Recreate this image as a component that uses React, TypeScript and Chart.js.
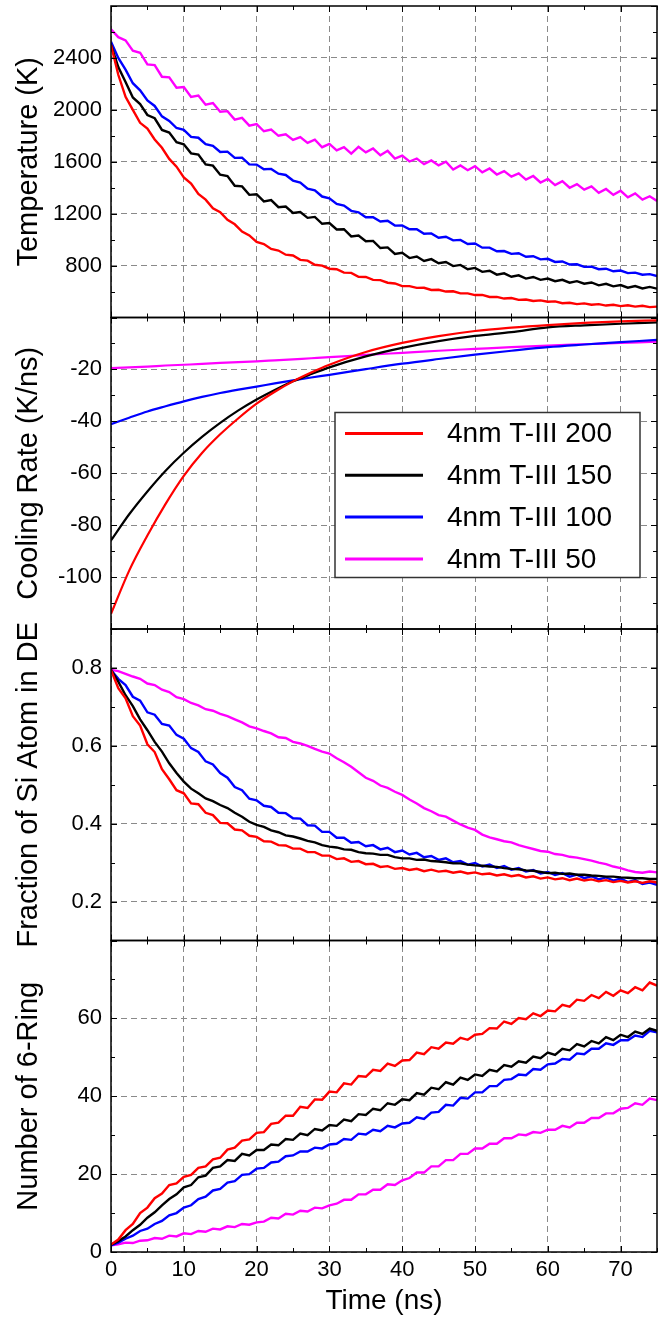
import React, { useEffect, useRef } from "react";
import { Chart, registerables } from "chart.js";

Chart.register(...registerables);

// ---------- DATA ----------
const TIME = [
  0, 1, 2, 3, 4, 5, 6, 7, 8, 9, 10, 11, 12, 13, 14, 15, 16, 17, 18, 19,
  20, 21, 22, 23, 24, 25, 26, 27, 28, 29, 30, 31, 32, 33, 34, 35, 36, 37, 38, 39,
  40, 41, 42, 43, 44, 45, 46, 47, 48, 49, 50, 51, 52, 53, 54, 55, 56, 57, 58, 59,
  60, 61, 62, 63, 64, 65, 66, 67, 68, 69, 70, 71, 72, 73, 74, 75,
];
const COOL_TIME = [0, 2.5, 5, 7.5, 10, 12.5, 15, 17.5, 20, 22.5, 25, 27.5, 30, 35, 40, 45, 50, 55, 60, 65, 70, 75];

const SERIES_NAMES = ["4nm T-III 200", "4nm T-III 150", "4nm T-III 100", "4nm T-III 50"];

// Temperature (K)
const TEMP_200 = [
  2500, 2270, 2100, 2000, 1900, 1855, 1772, 1708, 1622, 1562, 1480, 1432, 1352, 1308, 1242, 1212, 1152, 1118, 1062, 1032,
  982, 966, 928, 916, 884, 878, 844, 838, 806, 800, 776, 772, 746, 744, 714, 712, 690, 688, 668, 662,
  642, 642, 628, 629, 612, 614, 600, 602, 586, 586, 573, 574, 558, 559, 546, 550, 536, 539, 527, 532,
  521, 524, 510, 514, 503, 509, 498, 503, 492, 498, 488, 494, 484, 490, 480, 484,
];
const TEMP_150 = [
  2500, 2330, 2215, 2095, 2045, 1960, 1935, 1845, 1825, 1750, 1735, 1665, 1655, 1580, 1570, 1500, 1490, 1415, 1410, 1345,
  1350, 1295, 1305, 1250, 1255, 1205, 1212, 1168, 1175, 1122, 1128, 1078, 1080, 1025, 1032, 988, 990, 935, 940, 890,
  898, 858, 870, 836, 850, 818, 828, 796, 805, 772, 782, 752, 760, 730, 740, 714, 725, 700, 712, 690,
  700, 680, 690, 668, 680, 660, 670, 648, 660, 640, 650, 630, 642, 624, 636, 622,
];
const TEMP_100 = [
  2525, 2400, 2310, 2205, 2150, 2072, 2030, 1950, 1915, 1860, 1845, 1792, 1785, 1735, 1722, 1675, 1678, 1630, 1632, 1580,
  1578, 1542, 1545, 1508, 1498, 1455, 1440, 1392, 1380, 1332, 1318, 1275, 1262, 1222, 1210, 1172, 1172, 1140, 1145, 1108,
  1110, 1080, 1080, 1045, 1048, 1015, 1022, 994, 998, 966, 970, 938, 938, 910, 912, 890, 895, 868, 872, 848,
  852, 828, 832, 808, 810, 790, 792, 772, 776, 756, 762, 742, 746, 730, 734, 720,
];
const TEMP_50 = [
  2620, 2560, 2535, 2455, 2440, 2350, 2345, 2255, 2250, 2170, 2175, 2100, 2110, 2040, 2052, 1985, 1990, 1925, 1938, 1878,
  1890, 1835, 1848, 1800, 1812, 1768, 1790, 1745, 1770, 1712, 1738, 1688, 1712, 1662, 1715, 1672, 1702, 1650, 1684, 1625,
  1648, 1602, 1625, 1582, 1610, 1572, 1600, 1540, 1572, 1535, 1566, 1518, 1548, 1502, 1528, 1485, 1510, 1462, 1490, 1440,
  1468, 1420, 1450, 1400, 1428, 1385, 1410, 1360, 1390, 1345, 1376, 1326, 1356, 1308, 1334, 1298,
];

// Cooling rate (K/ns)
const RATE_200 = [-114.2, -97.5, -84, -71.8, -61, -52.2, -45, -38.8, -33.2, -28.6, -24.6, -21.2, -18.2, -13.3, -9.8, -7.2, -5.2, -3.9, -2.9, -2.1, -1.5, -1.1];
const RATE_150 = [-85.9, -75.8, -67, -59, -52.1, -46, -40.6, -35.8, -31.6, -27.9, -24.6, -21.8, -19.2, -15, -11.7, -9.1, -7.1, -5.6, -3.8, -3, -2.4, -1.9];
const RATE_100 = [-41.1, -38.6, -36.2, -34.2, -32.3, -30.6, -29.1, -27.8, -26.6, -25.4, -24.2, -23.1, -22.1, -19.9, -17.8, -16, -14.3, -12.8, -11.4, -10.4, -9.5, -8.6];
const RATE_50 = [-19.5, -19.2, -18.9, -18.5, -18.2, -17.9, -17.5, -17.2, -16.9, -16.5, -16.1, -15.7, -15.3, -14.4, -13.6, -12.8, -12.1, -11.4, -10.8, -10.3, -9.8, -9.3];

// Fraction of Si atom in DE
const FRAC_200 = [
  0.795, 0.748, 0.722, 0.676, 0.652, 0.604, 0.584, 0.54, 0.514, 0.486, 0.478, 0.452, 0.45, 0.428, 0.422, 0.402, 0.401, 0.385, 0.383, 0.369,
  0.366, 0.355, 0.354, 0.345, 0.344, 0.336, 0.336, 0.327, 0.327, 0.318, 0.318, 0.309, 0.311, 0.302, 0.304, 0.296, 0.297, 0.289, 0.291, 0.284,
  0.286, 0.281, 0.284, 0.278, 0.282, 0.277, 0.279, 0.274, 0.277, 0.272, 0.275, 0.27, 0.272, 0.267, 0.27, 0.265, 0.268, 0.262, 0.265, 0.259,
  0.262, 0.257, 0.26, 0.255, 0.259, 0.254, 0.257, 0.252, 0.255, 0.25, 0.253, 0.249, 0.252, 0.248, 0.252, 0.249,
];
const FRAC_150 = [
  0.795, 0.765, 0.73, 0.702, 0.668, 0.64, 0.61, 0.585, 0.555, 0.53, 0.508, 0.49, 0.478, 0.465, 0.458, 0.448, 0.44, 0.428, 0.418, 0.405,
  0.397, 0.392, 0.383, 0.378, 0.37, 0.367, 0.362, 0.356, 0.352, 0.345, 0.341, 0.339, 0.334, 0.333, 0.327, 0.324, 0.323, 0.32, 0.32, 0.314,
  0.311, 0.311, 0.307, 0.308, 0.304, 0.303, 0.301, 0.298, 0.298, 0.295, 0.293, 0.292, 0.29, 0.289, 0.286, 0.284, 0.283, 0.28, 0.279, 0.276,
  0.273, 0.274, 0.271, 0.272, 0.269, 0.269, 0.267, 0.266, 0.264, 0.264, 0.262, 0.261, 0.26, 0.26, 0.258, 0.258,
];
const FRAC_100 = [
  0.795, 0.772, 0.756, 0.726, 0.716, 0.686, 0.68, 0.656, 0.652, 0.628, 0.618, 0.594, 0.584, 0.56, 0.552, 0.53, 0.518, 0.494, 0.486, 0.464,
  0.46, 0.446, 0.443, 0.428, 0.427, 0.414, 0.413, 0.396, 0.395, 0.379, 0.379, 0.364, 0.364, 0.351, 0.353, 0.342, 0.345, 0.334, 0.338, 0.327,
  0.331, 0.321, 0.325, 0.314, 0.317, 0.307, 0.311, 0.301, 0.304, 0.295, 0.299, 0.29, 0.295, 0.286, 0.291, 0.282, 0.286, 0.277, 0.281, 0.272,
  0.276, 0.268, 0.273, 0.264, 0.269, 0.26, 0.265, 0.257, 0.262, 0.254, 0.259, 0.25, 0.255, 0.245, 0.249, 0.243,
];
const FRAC_50 = [
  0.795, 0.792, 0.785, 0.778, 0.772, 0.76, 0.756, 0.744, 0.738, 0.725, 0.72, 0.71, 0.704, 0.694, 0.69, 0.682, 0.676, 0.668, 0.66, 0.65,
  0.645, 0.638, 0.632, 0.622, 0.62, 0.61, 0.606, 0.6, 0.592, 0.585, 0.58, 0.568, 0.558, 0.546, 0.532, 0.518, 0.51, 0.498, 0.492, 0.482,
  0.474, 0.462, 0.452, 0.44, 0.432, 0.422, 0.418, 0.408, 0.398, 0.39, 0.384, 0.372, 0.365, 0.36, 0.355, 0.352, 0.345, 0.34, 0.335, 0.33,
  0.328, 0.322, 0.32, 0.315, 0.313, 0.309, 0.305, 0.3, 0.296, 0.29, 0.286, 0.28, 0.276, 0.274, 0.277, 0.275,
];

// Number of 6-rings
const RING_200 = [
  1.9, 3.2, 5.6, 7.2, 10.0, 11.4, 13.8, 15.0, 17.2, 17.6, 19.3, 19.8, 21.6, 22.0, 23.8, 24.2, 26.3, 26.8, 28.6, 28.9,
  30.6, 30.8, 32.9, 33.2, 35.0, 35.0, 37.3, 37.0, 39.2, 39.1, 41.2, 41.0, 43.3, 43.0, 45.2, 45.0, 46.8, 46.5, 48.4, 47.8,
  49.2, 49.3, 51.2, 50.8, 52.6, 52.2, 53.8, 53.5, 55.0, 54.5, 55.8, 56.0, 57.5, 57.4, 59.2, 58.6, 60.1, 59.8, 61.3, 60.6,
  62.0, 61.8, 63.5, 63.0, 64.8, 64.5, 66.0, 65.2, 66.8, 65.8, 67.2, 66.5, 68.0, 67.2, 69.2, 68.4,
];
const RING_150 = [
  1.9, 2.8, 4.0, 5.6, 7.0, 8.8, 10.2, 12.0, 13.6, 14.8, 16.6, 17.2, 19.2, 19.6, 21.6, 22.0, 23.6, 23.4, 25.2, 24.8,
  26.2, 26.2, 27.6, 27.4, 29.0, 28.8, 30.4, 30.0, 31.6, 31.2, 32.6, 32.4, 34.0, 33.6, 35.4, 35.2, 36.8, 36.4, 38.2, 37.8,
  39.2, 39.0, 40.8, 40.4, 42.2, 41.8, 43.6, 43.0, 44.8, 44.2, 45.6, 45.2, 46.8, 46.4, 48.0, 47.6, 49.0, 48.6, 50.2, 49.8,
  51.2, 50.6, 52.2, 51.8, 53.4, 52.8, 54.2, 53.6, 55.2, 54.4, 55.8, 55.2, 56.6, 56.0, 57.4, 56.8,
];
const RING_100 = [
  1.7, 2.4, 3.4, 4.2, 5.4, 6.0, 7.2, 8.0, 9.4, 10.0, 11.4, 12.0, 13.6, 14.2, 15.8, 16.2, 17.8, 18.2, 19.8, 20.0,
  21.4, 21.6, 23.0, 23.2, 24.6, 24.8, 25.8, 25.8, 26.8, 26.6, 27.6, 27.8, 29.0, 28.8, 30.4, 30.2, 31.4, 31.0, 32.4, 32.0,
  33.0, 33.2, 34.6, 34.2, 35.8, 36.0, 37.8, 37.6, 39.6, 39.4, 41.0, 41.0, 42.6, 42.6, 44.2, 44.4, 45.6, 45.4, 47.0, 46.8,
  48.2, 48.4, 49.6, 49.4, 51.0, 50.8, 52.2, 52.2, 53.6, 53.2, 54.4, 54.4, 55.6, 55.2, 56.8, 56.4,
];
const RING_50 = [
  1.7, 2.0, 2.4, 2.3, 2.9, 3.0, 3.6, 3.4, 4.2, 4.0, 4.8, 4.6, 5.4, 5.2, 6.0, 5.8, 6.6, 6.4, 7.2, 7.0,
  7.6, 7.8, 8.8, 8.6, 9.8, 9.6, 10.6, 10.4, 11.4, 11.2, 12.0, 12.4, 13.4, 13.4, 14.8, 14.8, 16.0, 16.0, 17.4, 17.2,
  18.4, 19.0, 20.4, 20.4, 22.0, 22.0, 23.6, 23.6, 25.2, 25.2, 26.6, 26.6, 27.8, 27.8, 29.2, 29.2, 30.2, 30.0, 30.8, 30.6,
  31.4, 31.4, 32.4, 32.0, 33.2, 33.2, 34.4, 34.4, 35.6, 35.6, 36.8, 37.0, 38.2, 37.8, 39.4, 39.0,
];

// Tick labels
const TIME_TICKS = [0, 10, 20, 30, 40, 50, 60, 70];
const TEMP_TICKS = [800, 1200, 1600, 2000, 2400];
const RATE_TICKS = [-100, -80, -60, -40, -20];
const FRAC_TICKS = [0.2, 0.4, 0.6, 0.8];
const RING_TICKS = [0, 20, 40, 60];

// ---------- STYLE ----------
const COLORS = ["#ff0000", "#000000", "#0000ff", "#ff00ff"];
const FONT = "'Liberation Sans', Arial, Helvetica, sans-serif";
const PANELS = ["yT", "yR", "yF", "yN"];
const MINOR_STEP: Record<string, number> = { yT: 200, yR: 10, yF: 0.1, yN: 10 };

const pts = (times: number[], vals: number[]) => times.map((t, i) => ({ x: t, y: vals[i] }));

const framePlugin = {
  id: "panelFrames",
  afterDatasetsDraw(chart: any) {
    const ctx = chart.ctx;
    const { left, right } = chart.chartArea;
    const xs = chart.scales.x;
    ctx.save();
    for (const id of PANELS) {
      const s = chart.scales[id];
      const top = s.top;
      const bottom = s.bottom;
      ctx.strokeStyle = "#000";
      ctx.lineWidth = 1;
      ctx.beginPath();
      const step = MINOR_STEP[id];
      const n = Math.round((s.max - s.min) / step);
      for (let i = 0; i <= n; i++) {
        const v = s.min + i * step;
        const q = v / (2 * step);
        const major = Math.abs(q - Math.round(q)) < 0.01;
        const len = major ? 6 : 4;
        const y = Math.round(s.getPixelForValue(v)) + 0.5;
        ctx.moveTo(left, y);
        ctx.lineTo(left + len, y);
        ctx.moveTo(right, y);
        ctx.lineTo(right - len, y);
      }
      for (let t = 0; t <= 75; t += 5) {
        const len = t % 10 === 0 ? 6 : 4;
        const x = Math.round(xs.getPixelForValue(t)) + 0.5;
        ctx.moveTo(x, top);
        ctx.lineTo(x, top + len);
        ctx.moveTo(x, bottom);
        ctx.lineTo(x, bottom - len);
      }
      ctx.stroke();
      ctx.lineWidth = 1.5;
      ctx.strokeRect(left, top, right - left, bottom - top);
    }
    ctx.restore();
  },
};

const legendPlugin = {
  id: "boxLegend",
  afterDatasetsDraw(chart: any) {
    const ctx = chart.ctx;
    const s = chart.scales.yR;
    const bx = chart.chartArea.left + 224;
    const by = s.top + 95;
    const bw = 305;
    const bh = 165;
    ctx.save();
    ctx.fillStyle = "#ffffff";
    ctx.fillRect(bx, by, bw, bh);
    ctx.strokeStyle = "#333333";
    ctx.lineWidth = 1.5;
    ctx.strokeRect(bx, by, bw, bh);
    ctx.font = `28px ${FONT}`;
    ctx.textBaseline = "middle";
    ctx.textAlign = "left";
    SERIES_NAMES.forEach((name, i) => {
      const y = by + 21 + i * 41.8;
      ctx.strokeStyle = COLORS[i];
      ctx.lineWidth = 3;
      ctx.beginPath();
      ctx.moveTo(bx + 10, y);
      ctx.lineTo(bx + 88, y);
      ctx.stroke();
      ctx.fillStyle = "#000";
      ctx.fillText(name, bx + 112, y + 1);
    });
    ctx.restore();
  },
};

function yScale(title: string, min: number, max: number, ticks: number[], fmt: (v: number) => string) {
  return {
    type: "linear",
    position: "left",
    stack: "panels",
    stackWeight: 1,
    min,
    max,
    afterBuildTicks: (s: any) => {
      s.ticks = ticks.map((v) => ({ value: v }));
    },
    afterFit: (s: any) => {
      s.width = 111;
      s.paddingTop = 0;
      s.paddingBottom = 0;
    },
    grid: { color: "#8a8a8a", lineWidth: 1, drawTicks: false },
    border: { display: false, dash: [6, 4] },
    ticks: {
      font: { size: 22, family: FONT },
      color: "#000",
      padding: 9,
      autoSkip: false,
      callback: (v: any) => fmt(Number(v)),
    },
    title: {
      display: true,
      text: title,
      color: "#000",
      font: { size: 29, family: FONT },
      padding: { top: 12, bottom: 0 },
    },
  };
}

export default function App() {
  const ref = useRef<HTMLCanvasElement>(null);

  useEffect(() => {
    const canvas = ref.current;
    if (!canvas) return;

    const noisy = (vals: number[], axis: string, i: number) => ({
      label: SERIES_NAMES[i],
      data: pts(TIME, vals),
      yAxisID: axis,
      borderColor: COLORS[i],
      backgroundColor: COLORS[i],
      borderWidth: 2.4,
      pointRadius: 0,
      tension: 0,
    });
    const smooth = (vals: number[], i: number) => ({
      label: SERIES_NAMES[i],
      data: pts(COOL_TIME, vals),
      yAxisID: "yR",
      borderColor: COLORS[i],
      backgroundColor: COLORS[i],
      borderWidth: 2.2,
      pointRadius: 0,
      cubicInterpolationMode: "monotone",
    });

    const datasets: any[] = [
      noisy(TEMP_200, "yT", 0), noisy(TEMP_150, "yT", 1), noisy(TEMP_100, "yT", 2), noisy(TEMP_50, "yT", 3),
      smooth(RATE_200, 0), smooth(RATE_150, 1), smooth(RATE_100, 2), smooth(RATE_50, 3),
      noisy(FRAC_200, "yF", 0), noisy(FRAC_150, "yF", 1), noisy(FRAC_100, "yF", 2), noisy(FRAC_50, "yF", 3),
      noisy(RING_200, "yN", 0), noisy(RING_150, "yN", 1), noisy(RING_100, "yN", 2), noisy(RING_50, "yN", 3),
    ];

    const chart = new Chart(canvas, {
      type: "line",
      data: { datasets },
      options: {
        animation: false,
        responsive: false,
        maintainAspectRatio: false,
        devicePixelRatio: 1,
        layout: { padding: { left: 0, right: 7, top: 6, bottom: 0 } },
        plugins: { legend: { display: false }, tooltip: { enabled: false } },
        scales: {
          // bottom panel first: stacked axes are placed bottom-up
          yN: yScale("Number of 6-Ring", 0, 80, RING_TICKS, (v) => String(v)),
          yF: yScale("Fraction of Si Atom in DE", 0.1, 0.9, FRAC_TICKS, (v) => v.toFixed(1)),
          yR: yScale("Cooling Rate (K/ns)", -120, 0, RATE_TICKS, (v) => String(v)),
          yT: yScale("Temperature (K)", 400, 2800, TEMP_TICKS, (v) => String(v)),
          x: {
            type: "linear",
            position: "bottom",
            min: 0,
            max: 75,
            afterBuildTicks: (s: any) => {
              s.ticks = TIME_TICKS.map((v) => ({ value: v }));
            },
            afterFit: (s: any) => {
              s.height = 68;
              s.paddingLeft = 0;
              s.paddingRight = 0;
            },
            grid: { color: "#8a8a8a", lineWidth: 1, drawTicks: false },
            border: { display: false, dash: [6, 4] },
            ticks: {
              font: { size: 22, family: FONT },
              color: "#000",
              padding: 5,
              maxRotation: 0,
              autoSkip: false,
            },
            title: {
              display: true,
              text: "Time (ns)",
              color: "#000",
              font: { size: 28, family: FONT },
              padding: { top: 0, bottom: 2 },
            },
          },
        } as any,
      },
      plugins: [framePlugin, legendPlugin],
    } as any);

    return () => chart.destroy();
  }, []);

  return (
    <div style={{ position: "absolute", left: 0, top: 0, width: 664, height: 1320, background: "#fff" }}>
      <canvas ref={ref} width={664} height={1320} style={{ display: "block", width: 664, height: 1320 }} />
    </div>
  );
}
